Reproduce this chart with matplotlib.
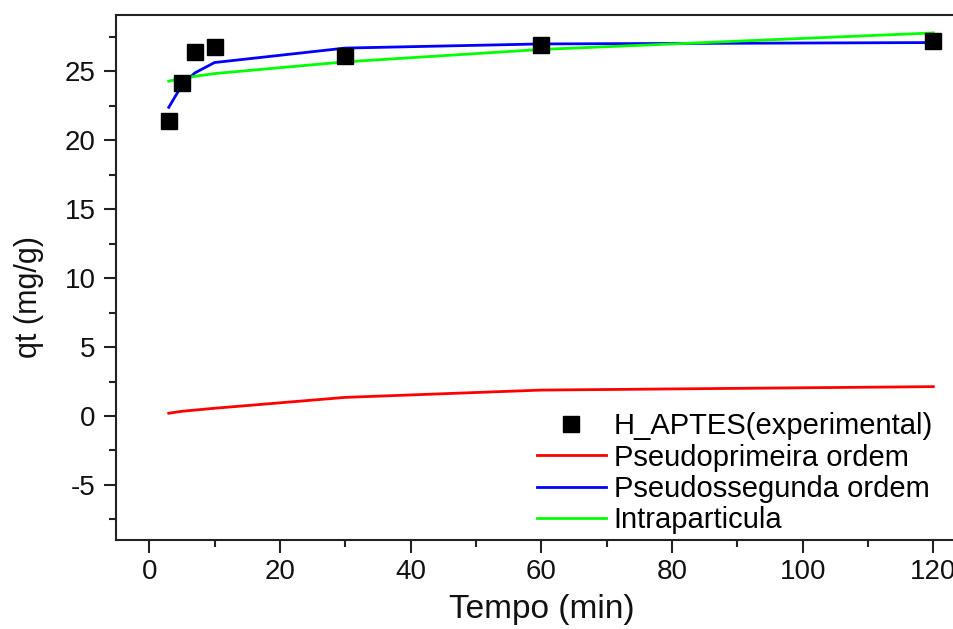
import matplotlib
matplotlib.use("Agg")
import matplotlib.pyplot as plt
from matplotlib.ticker import MultipleLocator

plt.rcParams['font.family'] = ['Liberation Sans', 'DejaVu Sans']
plt.rcParams['axes.unicode_minus'] = False

# Contact time (min)
tempo = [3, 5, 7, 10, 30, 60, 120]

# Experimental adsorbed amount (mg/g)
qt_exp = [21.4, 24.2, 26.4, 26.8, 26.1, 26.9, 27.2]

# Kinetic model fits (mg/g)
qt_pseudo1 = [0.2, 0.34, 0.43, 0.56, 1.35, 1.88, 2.13]
qt_pseudo2 = [22.4, 24.0, 24.9, 25.65, 26.7, 27.0, 27.1]
qt_intra = [24.3, 24.5, 24.65, 24.85, 25.7, 26.6, 27.8]

labels = ["H_APTES(experimental)", "Pseudoprimeira ordem",
          "Pseudossegunda ordem", "Intraparticula"]

W, H = 954, 629
fig = plt.figure(figsize=(W / 100, H / 100), dpi=100)
ax = fig.add_axes([116.5 / W, 1 - 540 / H, (966 - 116.5) / W, (540 - 15) / H])

ax.plot(tempo, qt_exp, linestyle='none', marker='s', ms=11,
        color='black', label=labels[0], zorder=4)
ax.plot(tempo, qt_pseudo1, color='#ff0000', lw=2, label=labels[1])
ax.plot(tempo, qt_pseudo2, color='#0000ff', lw=2, label=labels[2])
ax.plot(tempo, qt_intra, color='#00ff00', lw=2, label=labels[3])

ax.set_xlim(-5, 125)
ax.set_ylim(-9, 29.1)
ax.xaxis.set_major_locator(MultipleLocator(20))
ax.xaxis.set_minor_locator(MultipleLocator(10))
ax.yaxis.set_major_locator(MultipleLocator(5))
ax.yaxis.set_minor_locator(MultipleLocator(2.5))

for side in ['left', 'bottom', 'top', 'right']:
    ax.spines[side].set_linewidth(1.5)
    ax.spines[side].set_color('#222222')

ax.tick_params(which='major', direction='out', length=9, width=1.5,
               labelsize=20, colors='#222222', labelcolor='#111111',
               top=False, right=False)
ax.tick_params(which='minor', direction='out', length=5, width=1.5,
               colors='#222222', top=False, right=False)
ax.tick_params(axis='x', which='major', pad=5)
ax.tick_params(axis='y', which='major', pad=6)

ax.set_xlabel("Tempo (min)", fontsize=24, color='#111111')
ax.set_ylabel("qt (mg/g)", fontsize=22, color='#111111')
ax.xaxis.set_label_coords(0.5003, -0.103)
ax.yaxis.set_label_coords(-0.0853, 0.462)

leg = ax.legend(loc='upper left', bbox_to_anchor=(537 / W, 1 - 412 / H),
                bbox_transform=fig.transFigure, frameon=False,
                fontsize=21, numpoints=1, handlelength=2.35,
                handletextpad=0.28, labelspacing=0.12, borderpad=0,
                borderaxespad=0)

fig.savefig("out.png", dpi=100)
